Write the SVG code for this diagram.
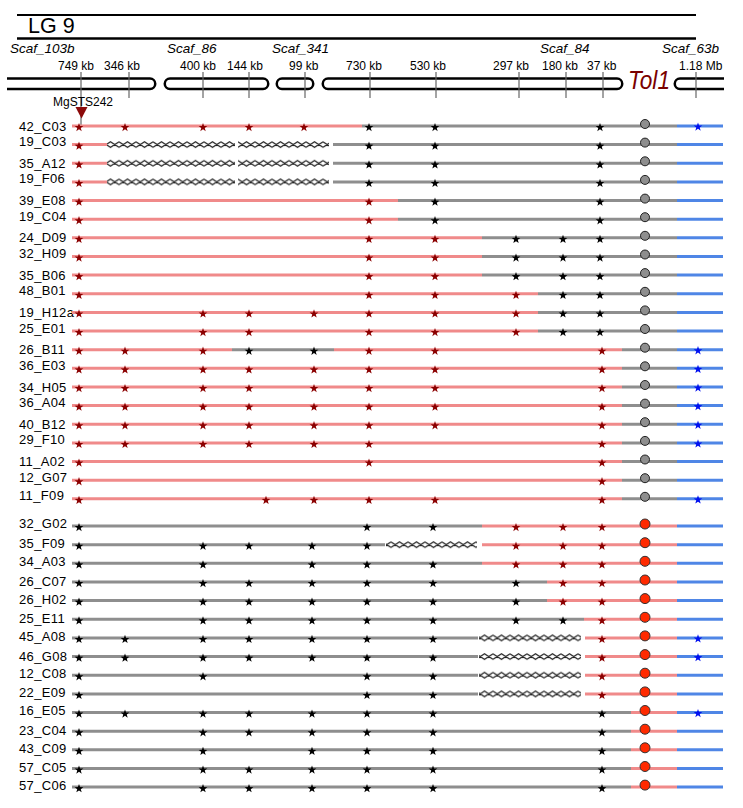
<svg xmlns="http://www.w3.org/2000/svg" xmlns:xlink="http://www.w3.org/1999/xlink" width="743" height="808" viewBox="0 0 743 808">
<style>
text{font-family:"Liberation Sans",Arial,sans-serif;fill:#000}
.lbl{font-size:13px;letter-spacing:0.35px}
.kb{font-size:12px}
.sc{font-size:13.5px;font-style:italic}
.pk,.gy,.bl{fill:none;stroke-width:3}
.pk{stroke:#f08a8a}
.gy{stroke:#8e8e8e}
.bl{stroke:#4f86e6}
.R{fill:#8b0000}
.K{fill:#000}
.B{fill:#0010f0}
.cg{fill:#8e8e8e;stroke:#222;stroke-width:1}
.cr{fill:#ff2a00;stroke:#333;stroke-width:1}
.bar{fill:none;stroke:#000;stroke-width:2.5}
.tk{stroke:#666;stroke-width:1.2}
.xx{fill:url(#xh)}
</style>
<defs>
<path id="s" d="M0,-4.6L1.08,-1.49L4.37,-1.42L1.75,0.57L2.7,3.72L0,1.84L-2.7,3.72L-1.75,0.57L-4.37,-1.42L-1.08,-1.49Z"/>
<pattern id="xh" patternUnits="userSpaceOnUse" x="0" y="-3.5" width="17" height="7">
<path d="M0,0.7L8.5,6.3L17,0.7M0,6.3L8.5,0.7L17,6.3" fill="none" stroke="#222" stroke-width="1.2"/>
</pattern>
</defs>
<rect width="743" height="808" fill="#fff"/>
<g id="header">
<line x1="17" y1="15" x2="696" y2="15" stroke="#000" stroke-width="2"/>
<text x="28" y="33" style="font-size:21.5px">LG 9</text>
<line x1="17" y1="38.5" x2="696" y2="38.5" stroke="#000" stroke-width="2.5"/>
<text class="sc" x="10" y="53">Scaf_103b</text>
<text class="sc" x="167" y="53">Scaf_86</text>
<text class="sc" x="272" y="53">Scaf_341</text>
<text class="sc" x="540" y="53">Scaf_84</text>
<text class="sc" x="662" y="53">Scaf_63b</text>
<text class="kb" x="58" y="70">749 kb</text>
<text class="kb" x="104" y="70">346 kb</text>
<text class="kb" x="180" y="70">400 kb</text>
<text class="kb" x="227" y="70">144 kb</text>
<text class="kb" x="289" y="70">99 kb</text>
<text class="kb" x="346" y="70">730 kb</text>
<text class="kb" x="410" y="70">530 kb</text>
<text class="kb" x="493" y="70">297 kb</text>
<text class="kb" x="542" y="70">180 kb</text>
<text class="kb" x="587" y="70">37 kb</text>
<text class="kb" x="679" y="70">1.18 Mb</text>
<path class="bar" d="M7,78.5H150A5.25,5.25 0 0 1 150,89H7"/>
<path class="bar" d="M170,78.5H263A5.25,5.25 0 0 1 263,89H170A5.25,5.25 0 0 1 170,78.5Z"/>
<path class="bar" d="M282,78.5H308A5.25,5.25 0 0 1 308,89H282A5.25,5.25 0 0 1 282,78.5Z"/>
<path class="bar" d="M328,78.5H617A5.25,5.25 0 0 1 617,89H328A5.25,5.25 0 0 1 328,78.5Z"/>
<path class="bar" d="M724,78.5H680A5.25,5.25 0 0 0 680,89H724"/>
<line class="tk" x1="81" y1="72" x2="81" y2="126"/>
<line class="tk" x1="129" y1="72" x2="129" y2="98"/>
<line class="tk" x1="203" y1="72" x2="203" y2="98"/>
<line class="tk" x1="249" y1="72" x2="249" y2="98"/>
<line class="tk" x1="305" y1="72" x2="305" y2="98"/>
<line class="tk" x1="370" y1="72" x2="370" y2="98"/>
<line class="tk" x1="436" y1="72" x2="436" y2="98"/>
<line class="tk" x1="519" y1="72" x2="519" y2="98"/>
<line class="tk" x1="566" y1="72" x2="566" y2="98"/>
<line class="tk" x1="603" y1="72" x2="603" y2="98"/>
<line class="tk" x1="696" y1="72" x2="696" y2="98"/>
<text x="628" y="89" style="font-size:26px;font-style:italic;fill:#7a0000" textLength="42" lengthAdjust="spacingAndGlyphs">Tol1</text>
<text x="53" y="105.5" style="font-size:12px">MgSTS242</text>
<path d="M75.5,107H87.5L81.5,118.5Z" fill="#8b0a0a"/>
</g>
<g id="rows">
<g id="r_42_C03" transform="translate(0,126)"><text class="lbl" x="19" y="4.5">42_C03</text><path class="pk" d="M72,0H362"/><path class="gy" d="M362,0H677"/><path class="bl" d="M677,0H723"/>
<use href="#s" class="R" x="79" y="1.5"/><use href="#s" class="R" x="125" y="1.5"/><use href="#s" class="R" x="203" y="1.5"/><use href="#s" class="R" x="249" y="1.5"/><use href="#s" class="R" x="304" y="1.5"/><use href="#s" class="K" x="369" y="1.5"/><use href="#s" class="K" x="435" y="1.5"/><use href="#s" class="K" x="600" y="1.5"/><circle class="cg" cx="645" cy="-2" r="4.5"/><use href="#s" class="B" x="698" y="1"/></g>
<g id="r_19_C03" transform="translate(0,144.6)"><text class="lbl" x="19" y="1.5">19_C03</text><path class="pk" d="M72,0H107"/><rect class="xx" x="107" y="-3.5" width="128" height="7"/><rect class="xx" x="238" y="-3.5" width="91" height="7"/><path class="gy" d="M333,0H677"/><path class="bl" d="M677,0H723"/>
<use href="#s" class="R" x="79" y="1.5"/><use href="#s" class="K" x="369" y="1.5"/><use href="#s" class="K" x="435" y="1.5"/><use href="#s" class="K" x="600" y="1.5"/><circle class="cg" cx="645" cy="-2" r="4.5"/></g>
<g id="r_35_A12" transform="translate(0,163.3)"><text class="lbl" x="19" y="4.5">35_A12</text><path class="pk" d="M72,0H107"/><rect class="xx" x="107" y="-3.5" width="128" height="7"/><rect class="xx" x="238" y="-3.5" width="91" height="7"/><path class="gy" d="M333,0H677"/><path class="bl" d="M677,0H723"/>
<use href="#s" class="R" x="79" y="1.5"/><use href="#s" class="K" x="369" y="1.5"/><use href="#s" class="K" x="435" y="1.5"/><use href="#s" class="K" x="600" y="1.5"/><circle class="cg" cx="645" cy="-2" r="4.5"/></g>
<g id="r_19_F06" transform="translate(0,181.9)"><text class="lbl" x="19" y="1.5">19_F06</text><path class="pk" d="M72,0H107"/><rect class="xx" x="107" y="-3.5" width="128" height="7"/><rect class="xx" x="238" y="-3.5" width="91" height="7"/><path class="gy" d="M333,0H677"/><path class="bl" d="M677,0H723"/>
<use href="#s" class="R" x="79" y="1.5"/><use href="#s" class="K" x="369" y="1.5"/><use href="#s" class="K" x="435" y="1.5"/><use href="#s" class="K" x="600" y="1.5"/><circle class="cg" cx="645" cy="-2" r="4.5"/></g>
<g id="r_39_E08" transform="translate(0,200.6)"><text class="lbl" x="19" y="4.5">39_E08</text><path class="pk" d="M72,0H398"/><path class="gy" d="M398,0H677"/><path class="bl" d="M677,0H723"/>
<use href="#s" class="R" x="79" y="1.5"/><use href="#s" class="R" x="369" y="1.5"/><use href="#s" class="K" x="435" y="1.5"/><use href="#s" class="K" x="600" y="1.5"/><circle class="cg" cx="645" cy="-2" r="4.5"/></g>
<g id="r_19_C04" transform="translate(0,219.2)"><text class="lbl" x="19" y="1.5">19_C04</text><path class="pk" d="M72,0H398"/><path class="gy" d="M398,0H677"/><path class="bl" d="M677,0H723"/>
<use href="#s" class="R" x="79" y="1.5"/><use href="#s" class="R" x="369" y="1.5"/><use href="#s" class="K" x="435" y="1.5"/><use href="#s" class="K" x="600" y="1.5"/><circle class="cg" cx="645" cy="-2" r="4.5"/></g>
<g id="r_24_D09" transform="translate(0,237.8)"><text class="lbl" x="19" y="4.5">24_D09</text><path class="pk" d="M72,0H482"/><path class="gy" d="M482,0H677"/><path class="bl" d="M677,0H723"/>
<use href="#s" class="R" x="79" y="1.5"/><use href="#s" class="R" x="369" y="1.5"/><use href="#s" class="R" x="435" y="1.5"/><use href="#s" class="K" x="516" y="1.5"/><use href="#s" class="K" x="563" y="1.5"/><use href="#s" class="K" x="600" y="1.5"/><circle class="cg" cx="645" cy="-2" r="4.5"/></g>
<g id="r_32_H09" transform="translate(0,256.5)"><text class="lbl" x="19" y="1.5">32_H09</text><path class="pk" d="M72,0H482"/><path class="gy" d="M482,0H677"/><path class="bl" d="M677,0H723"/>
<use href="#s" class="R" x="79" y="1.5"/><use href="#s" class="R" x="369" y="1.5"/><use href="#s" class="R" x="435" y="1.5"/><use href="#s" class="K" x="516" y="1.5"/><use href="#s" class="K" x="563" y="1.5"/><use href="#s" class="K" x="600" y="1.5"/><circle class="cg" cx="645" cy="-2" r="4.5"/></g>
<g id="r_35_B06" transform="translate(0,275.1)"><text class="lbl" x="19" y="4.5">35_B06</text><path class="pk" d="M72,0H482"/><path class="gy" d="M482,0H677"/><path class="bl" d="M677,0H723"/>
<use href="#s" class="R" x="79" y="1.5"/><use href="#s" class="R" x="369" y="1.5"/><use href="#s" class="R" x="435" y="1.5"/><use href="#s" class="K" x="516" y="1.5"/><use href="#s" class="K" x="563" y="1.5"/><use href="#s" class="K" x="600" y="1.5"/><circle class="cg" cx="645" cy="-2" r="4.5"/></g>
<g id="r_48_B01" transform="translate(0,293.8)"><text class="lbl" x="19" y="1.5">48_B01</text><path class="pk" d="M72,0H538"/><path class="gy" d="M538,0H677"/><path class="bl" d="M677,0H723"/>
<use href="#s" class="R" x="79" y="1.5"/><use href="#s" class="R" x="369" y="1.5"/><use href="#s" class="R" x="435" y="1.5"/><use href="#s" class="R" x="516" y="1.5"/><use href="#s" class="K" x="563" y="1.5"/><use href="#s" class="K" x="600" y="1.5"/><circle class="cg" cx="645" cy="-2" r="4.5"/></g>
<g id="r_19_H12a" transform="translate(0,312.4)"><text class="lbl" x="19" y="4.5">19_H12a</text><path class="pk" d="M72,0H538"/><path class="gy" d="M538,0H677"/><path class="bl" d="M677,0H723"/>
<use href="#s" class="R" x="79" y="1.5"/><use href="#s" class="R" x="203" y="1.5"/><use href="#s" class="R" x="249" y="1.5"/><use href="#s" class="R" x="314" y="1.5"/><use href="#s" class="R" x="369" y="1.5"/><use href="#s" class="R" x="435" y="1.5"/><use href="#s" class="R" x="516" y="1.5"/><use href="#s" class="K" x="563" y="1.5"/><use href="#s" class="K" x="600" y="1.5"/><circle class="cg" cx="645" cy="-2" r="4.5"/></g>
<g id="r_25_E01" transform="translate(0,331)"><text class="lbl" x="19" y="1.5">25_E01</text><path class="pk" d="M72,0H538"/><path class="gy" d="M538,0H677"/><path class="bl" d="M677,0H723"/>
<use href="#s" class="R" x="79" y="1.5"/><use href="#s" class="R" x="203" y="1.5"/><use href="#s" class="R" x="249" y="1.5"/><use href="#s" class="R" x="369" y="1.5"/><use href="#s" class="R" x="435" y="1.5"/><use href="#s" class="R" x="516" y="1.5"/><use href="#s" class="K" x="563" y="1.5"/><use href="#s" class="K" x="600" y="1.5"/><circle class="cg" cx="645" cy="-2" r="4.5"/></g>
<g id="r_26_B11" transform="translate(0,349.7)"><text class="lbl" x="19" y="4.5">26_B11</text><path class="pk" d="M72,0H232"/><path class="gy" d="M232,0H334"/><path class="pk" d="M334,0H622"/><path class="gy" d="M622,0H677"/><path class="bl" d="M677,0H723"/>
<use href="#s" class="R" x="79" y="1.5"/><use href="#s" class="R" x="125" y="1.5"/><use href="#s" class="R" x="203" y="1.5"/><use href="#s" class="K" x="249" y="1.5"/><use href="#s" class="K" x="314" y="1.5"/><use href="#s" class="R" x="369" y="1.5"/><use href="#s" class="R" x="435" y="1.5"/><use href="#s" class="R" x="602" y="1.5"/><circle class="cg" cx="645" cy="-2" r="4.5"/><use href="#s" class="B" x="698" y="1"/></g>
<g id="r_36_E03" transform="translate(0,368.3)"><text class="lbl" x="19" y="1.5">36_E03</text><path class="pk" d="M72,0H622"/><path class="gy" d="M622,0H677"/><path class="bl" d="M677,0H723"/>
<use href="#s" class="R" x="79" y="1.5"/><use href="#s" class="R" x="125" y="1.5"/><use href="#s" class="R" x="203" y="1.5"/><use href="#s" class="R" x="249" y="1.5"/><use href="#s" class="R" x="314" y="1.5"/><use href="#s" class="R" x="369" y="1.5"/><use href="#s" class="R" x="435" y="1.5"/><use href="#s" class="R" x="602" y="1.5"/><circle class="cg" cx="645" cy="-2" r="4.5"/><use href="#s" class="B" x="698" y="1"/></g>
<g id="r_34_H05" transform="translate(0,387)"><text class="lbl" x="19" y="4.5">34_H05</text><path class="pk" d="M72,0H622"/><path class="gy" d="M622,0H677"/><path class="bl" d="M677,0H723"/>
<use href="#s" class="R" x="79" y="1.5"/><use href="#s" class="R" x="125" y="1.5"/><use href="#s" class="R" x="203" y="1.5"/><use href="#s" class="R" x="249" y="1.5"/><use href="#s" class="R" x="314" y="1.5"/><use href="#s" class="R" x="369" y="1.5"/><use href="#s" class="R" x="435" y="1.5"/><use href="#s" class="R" x="602" y="1.5"/><circle class="cg" cx="645" cy="-2" r="4.5"/><use href="#s" class="B" x="698" y="1"/></g>
<g id="r_36_A04" transform="translate(0,405.6)"><text class="lbl" x="19" y="1.5">36_A04</text><path class="pk" d="M72,0H622"/><path class="gy" d="M622,0H677"/><path class="bl" d="M677,0H723"/>
<use href="#s" class="R" x="79" y="1.5"/><use href="#s" class="R" x="125" y="1.5"/><use href="#s" class="R" x="203" y="1.5"/><use href="#s" class="R" x="249" y="1.5"/><use href="#s" class="R" x="314" y="1.5"/><use href="#s" class="R" x="369" y="1.5"/><use href="#s" class="R" x="435" y="1.5"/><use href="#s" class="R" x="602" y="1.5"/><circle class="cg" cx="645" cy="-2" r="4.5"/><use href="#s" class="B" x="698" y="1"/></g>
<g id="r_40_B12" transform="translate(0,424.2)"><text class="lbl" x="19" y="4.5">40_B12</text><path class="pk" d="M72,0H622"/><path class="gy" d="M622,0H677"/><path class="bl" d="M677,0H723"/>
<use href="#s" class="R" x="79" y="1.5"/><use href="#s" class="R" x="125" y="1.5"/><use href="#s" class="R" x="203" y="1.5"/><use href="#s" class="R" x="249" y="1.5"/><use href="#s" class="R" x="314" y="1.5"/><use href="#s" class="R" x="369" y="1.5"/><use href="#s" class="R" x="435" y="1.5"/><use href="#s" class="R" x="602" y="1.5"/><circle class="cg" cx="645" cy="-2" r="4.5"/><use href="#s" class="B" x="698" y="1"/></g>
<g id="r_29_F10" transform="translate(0,442.9)"><text class="lbl" x="19" y="1.5">29_F10</text><path class="pk" d="M72,0H622"/><path class="gy" d="M622,0H677"/><path class="bl" d="M677,0H723"/>
<use href="#s" class="R" x="79" y="1.5"/><use href="#s" class="R" x="125" y="1.5"/><use href="#s" class="R" x="203" y="1.5"/><use href="#s" class="R" x="249" y="1.5"/><use href="#s" class="R" x="314" y="1.5"/><use href="#s" class="R" x="369" y="1.5"/><use href="#s" class="R" x="602" y="1.5"/><circle class="cg" cx="645" cy="-2" r="4.5"/><use href="#s" class="B" x="698" y="1"/></g>
<g id="r_11_A02" transform="translate(0,461.5)"><text class="lbl" x="19" y="4.5">11_A02</text><path class="pk" d="M72,0H622"/><path class="gy" d="M622,0H677"/><path class="bl" d="M677,0H723"/>
<use href="#s" class="R" x="79" y="1.5"/><use href="#s" class="R" x="369" y="1.5"/><use href="#s" class="R" x="602" y="1.5"/><circle class="cg" cx="645" cy="-2" r="4.5"/></g>
<g id="r_12_G07" transform="translate(0,480.2)"><text class="lbl" x="19" y="1.5">12_G07</text><path class="pk" d="M72,0H622"/><path class="gy" d="M622,0H677"/><path class="bl" d="M677,0H723"/>
<use href="#s" class="R" x="79" y="1.5"/><use href="#s" class="R" x="602" y="1.5"/><circle class="cg" cx="645" cy="-2" r="4.5"/></g>
<g id="r_11_F09" transform="translate(0,498.8)"><text class="lbl" x="19" y="1.5">11_F09</text><path class="pk" d="M72,0H622"/><path class="gy" d="M622,0H677"/><path class="bl" d="M677,0H723"/>
<use href="#s" class="R" x="79" y="1.5"/><use href="#s" class="R" x="266" y="1.5"/><use href="#s" class="R" x="314" y="1.5"/><use href="#s" class="R" x="369" y="1.5"/><use href="#s" class="R" x="435" y="1.5"/><use href="#s" class="R" x="602" y="1.5"/><circle class="cg" cx="645" cy="-2" r="4.5"/><use href="#s" class="B" x="698" y="1"/></g>

<g id="r_32_G02" transform="translate(0,526)"><text class="lbl" x="19" y="1.5">32_G02</text><path class="gy" d="M72,0H482"/><path class="pk" d="M482,0H677"/><path class="bl" d="M677,0H723"/>
<use href="#s" class="K" x="79" y="1.5"/><use href="#s" class="K" x="367" y="1.5"/><use href="#s" class="K" x="433" y="1.5"/><use href="#s" class="R" x="516" y="1.5"/><use href="#s" class="R" x="563" y="1.5"/><use href="#s" class="R" x="602" y="1.5"/><circle class="cr" cx="645" cy="-2" r="5"/></g>
<g id="r_35_F09" transform="translate(0,544.7)"><text class="lbl" x="19" y="3.5">35_F09</text><path class="gy" d="M72,0H385"/><rect class="xx" x="386" y="-3.5" width="91" height="7"/><path class="pk" d="M482,0H677"/><path class="bl" d="M677,0H723"/>
<use href="#s" class="K" x="79" y="1.5"/><use href="#s" class="K" x="203" y="1.5"/><use href="#s" class="K" x="249" y="1.5"/><use href="#s" class="K" x="312" y="1.5"/><use href="#s" class="K" x="367" y="1.5"/><use href="#s" class="R" x="516" y="1.5"/><use href="#s" class="R" x="563" y="1.5"/><use href="#s" class="R" x="602" y="1.5"/><circle class="cr" cx="645" cy="-2" r="5"/></g>
<g id="r_34_A03" transform="translate(0,563.3)"><text class="lbl" x="19" y="2.5">34_A03</text><path class="gy" d="M72,0H482"/><path class="pk" d="M482,0H677"/><path class="bl" d="M677,0H723"/>
<use href="#s" class="K" x="79" y="1.5"/><use href="#s" class="K" x="203" y="1.5"/><use href="#s" class="K" x="312" y="1.5"/><use href="#s" class="K" x="367" y="1.5"/><use href="#s" class="K" x="433" y="1.5"/><use href="#s" class="R" x="516" y="1.5"/><use href="#s" class="R" x="563" y="1.5"/><use href="#s" class="R" x="602" y="1.5"/><circle class="cr" cx="645" cy="-2" r="5"/></g>
<g id="r_26_C07" transform="translate(0,582)"><text class="lbl" x="19" y="3.5">26_C07</text><path class="gy" d="M72,0H547"/><path class="pk" d="M547,0H677"/><path class="bl" d="M677,0H723"/>
<use href="#s" class="K" x="79" y="1.5"/><use href="#s" class="K" x="203" y="1.5"/><use href="#s" class="K" x="249" y="1.5"/><use href="#s" class="K" x="312" y="1.5"/><use href="#s" class="K" x="367" y="1.5"/><use href="#s" class="K" x="433" y="1.5"/><use href="#s" class="K" x="516" y="1.5"/><use href="#s" class="R" x="563" y="1.5"/><use href="#s" class="R" x="602" y="1.5"/><circle class="cr" cx="645" cy="-2" r="5"/></g>
<g id="r_26_H02" transform="translate(0,600.6)"><text class="lbl" x="19" y="3">26_H02</text><path class="gy" d="M72,0H547"/><path class="pk" d="M547,0H677"/><path class="bl" d="M677,0H723"/>
<use href="#s" class="K" x="79" y="1.5"/><use href="#s" class="K" x="203" y="1.5"/><use href="#s" class="K" x="249" y="1.5"/><use href="#s" class="K" x="312" y="1.5"/><use href="#s" class="K" x="367" y="1.5"/><use href="#s" class="K" x="433" y="1.5"/><use href="#s" class="K" x="516" y="1.5"/><use href="#s" class="R" x="563" y="1.5"/><use href="#s" class="R" x="602" y="1.5"/><circle class="cr" cx="645" cy="-2" r="5"/></g>
<g id="r_25_E11" transform="translate(0,619.3)"><text class="lbl" x="19" y="3.5">25_E11</text><path class="gy" d="M72,0H584"/><path class="pk" d="M584,0H677"/><path class="bl" d="M677,0H723"/>
<use href="#s" class="K" x="79" y="1.5"/><use href="#s" class="K" x="203" y="1.5"/><use href="#s" class="K" x="249" y="1.5"/><use href="#s" class="K" x="312" y="1.5"/><use href="#s" class="K" x="367" y="1.5"/><use href="#s" class="K" x="433" y="1.5"/><use href="#s" class="K" x="516" y="1.5"/><use href="#s" class="K" x="563" y="1.5"/><use href="#s" class="R" x="602" y="1.5"/><circle class="cr" cx="645" cy="-2" r="5"/></g>
<g id="r_45_A08" transform="translate(0,637.9)"><text class="lbl" x="19" y="3">45_A08</text><path class="gy" d="M72,0H478"/><rect class="xx" x="479" y="-3.5" width="102" height="7"/><path class="pk" d="M585,0H677"/><path class="bl" d="M677,0H723"/>
<use href="#s" class="K" x="79" y="1.5"/><use href="#s" class="K" x="125" y="1.5"/><use href="#s" class="K" x="203" y="1.5"/><use href="#s" class="K" x="249" y="1.5"/><use href="#s" class="K" x="312" y="1.5"/><use href="#s" class="K" x="367" y="1.5"/><use href="#s" class="K" x="433" y="1.5"/><use href="#s" class="R" x="602" y="1.5"/><circle class="cr" cx="645" cy="-2" r="5"/><use href="#s" class="B" x="698" y="1"/></g>
<g id="r_46_G08" transform="translate(0,656.6)"><text class="lbl" x="19" y="4">46_G08</text><path class="gy" d="M72,0H478"/><rect class="xx" x="479" y="-3.5" width="102" height="7"/><path class="pk" d="M585,0H677"/><path class="bl" d="M677,0H723"/>
<use href="#s" class="K" x="79" y="1.5"/><use href="#s" class="K" x="125" y="1.5"/><use href="#s" class="K" x="203" y="1.5"/><use href="#s" class="K" x="249" y="1.5"/><use href="#s" class="K" x="312" y="1.5"/><use href="#s" class="K" x="367" y="1.5"/><use href="#s" class="K" x="433" y="1.5"/><use href="#s" class="R" x="602" y="1.5"/><circle class="cr" cx="645" cy="-2" r="5"/><use href="#s" class="B" x="698" y="1"/></g>
<g id="r_12_C08" transform="translate(0,675.2)"><text class="lbl" x="19" y="3">12_C08</text><path class="gy" d="M72,0H478"/><rect class="xx" x="479" y="-3.5" width="102" height="7"/><path class="pk" d="M585,0H677"/><path class="bl" d="M677,0H723"/>
<use href="#s" class="K" x="79" y="1.5"/><use href="#s" class="K" x="203" y="1.5"/><use href="#s" class="K" x="367" y="1.5"/><use href="#s" class="K" x="433" y="1.5"/><use href="#s" class="R" x="602" y="1.5"/><circle class="cr" cx="645" cy="-2" r="5"/></g>
<g id="r_22_E09" transform="translate(0,693.9)"><text class="lbl" x="19" y="3.5">22_E09</text><path class="gy" d="M72,0H478"/><rect class="xx" x="479" y="-3.5" width="102" height="7"/><path class="pk" d="M585,0H677"/><path class="bl" d="M677,0H723"/>
<use href="#s" class="K" x="79" y="1.5"/><use href="#s" class="K" x="367" y="1.5"/><use href="#s" class="K" x="433" y="1.5"/><use href="#s" class="R" x="602" y="1.5"/><circle class="cr" cx="645" cy="-2" r="5"/></g>
<g id="r_16_E05" transform="translate(0,712.5)"><text class="lbl" x="19" y="2.5">16_E05</text><path class="gy" d="M72,0H631"/><path class="pk" d="M631,0H677"/><path class="bl" d="M677,0H723"/>
<use href="#s" class="K" x="79" y="1.5"/><use href="#s" class="K" x="125" y="1.5"/><use href="#s" class="K" x="203" y="1.5"/><use href="#s" class="K" x="249" y="1.5"/><use href="#s" class="K" x="312" y="1.5"/><use href="#s" class="K" x="367" y="1.5"/><use href="#s" class="K" x="433" y="1.5"/><use href="#s" class="K" x="602" y="1.5"/><circle class="cr" cx="645" cy="-2" r="5"/><use href="#s" class="B" x="698" y="1"/></g>
<g id="r_23_C04" transform="translate(0,731.2)"><text class="lbl" x="19" y="3.5">23_C04</text><path class="gy" d="M72,0H631"/><path class="pk" d="M631,0H677"/><path class="bl" d="M677,0H723"/>
<use href="#s" class="K" x="79" y="1.5"/><use href="#s" class="K" x="203" y="1.5"/><use href="#s" class="K" x="249" y="1.5"/><use href="#s" class="K" x="312" y="1.5"/><use href="#s" class="K" x="367" y="1.5"/><use href="#s" class="K" x="433" y="1.5"/><use href="#s" class="K" x="602" y="1.5"/><circle class="cr" cx="645" cy="-2" r="5"/></g>
<g id="r_43_C09" transform="translate(0,749.8)"><text class="lbl" x="19" y="3.5">43_C09</text><path class="gy" d="M72,0H631"/><path class="pk" d="M631,0H677"/><path class="bl" d="M677,0H723"/>
<use href="#s" class="K" x="79" y="1.5"/><use href="#s" class="K" x="203" y="1.5"/><use href="#s" class="K" x="312" y="1.5"/><use href="#s" class="K" x="367" y="1.5"/><use href="#s" class="K" x="433" y="1.5"/><use href="#s" class="K" x="602" y="1.5"/><circle class="cr" cx="645" cy="-2" r="5"/></g>
<g id="r_57_C05" transform="translate(0,768.5)"><text class="lbl" x="19" y="3.5">57_C05</text><path class="gy" d="M72,0H631"/><path class="pk" d="M631,0H677"/><path class="bl" d="M677,0H723"/>
<use href="#s" class="K" x="79" y="1.5"/><use href="#s" class="K" x="203" y="1.5"/><use href="#s" class="K" x="249" y="1.5"/><use href="#s" class="K" x="312" y="1.5"/><use href="#s" class="K" x="367" y="1.5"/><use href="#s" class="K" x="433" y="1.5"/><use href="#s" class="K" x="602" y="1.5"/><circle class="cr" cx="645" cy="-2" r="5"/></g>
<g id="r_57_C06" transform="translate(0,787.1)"><text class="lbl" x="19" y="2.5">57_C06</text><path class="gy" d="M72,0H631"/><path class="pk" d="M631,0H677"/><path class="bl" d="M677,0H723"/>
<use href="#s" class="K" x="79" y="1.5"/><use href="#s" class="K" x="203" y="1.5"/><use href="#s" class="K" x="249" y="1.5"/><use href="#s" class="K" x="312" y="1.5"/><use href="#s" class="K" x="367" y="1.5"/><use href="#s" class="K" x="433" y="1.5"/><use href="#s" class="K" x="602" y="1.5"/><circle class="cr" cx="645" cy="-2" r="5"/></g>
</g>
<g id="connectors"/>
</svg>
